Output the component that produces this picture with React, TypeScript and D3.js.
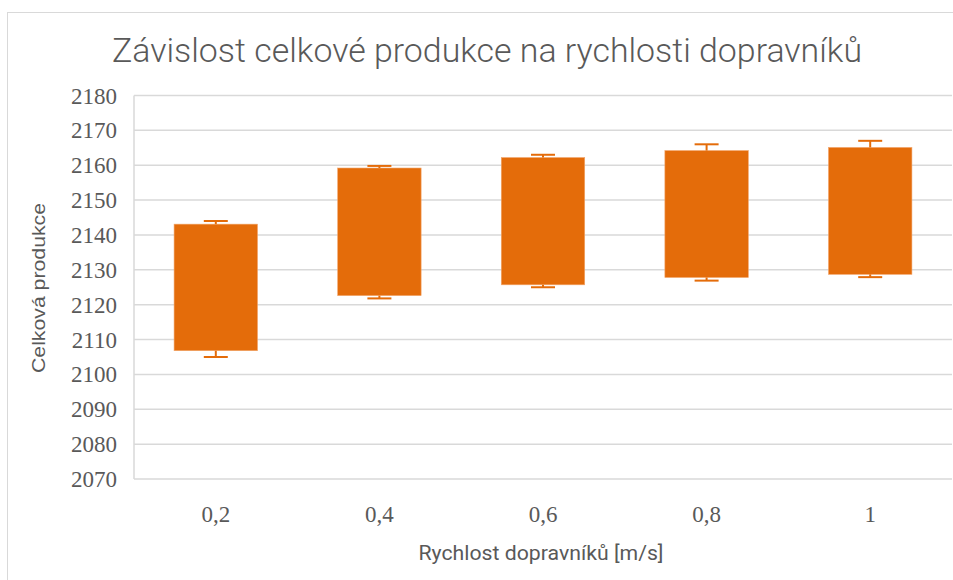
import { useEffect, useRef } from 'react';
import * as d3 from 'd3';

const speeds = ['0,2', '0,4', '0,6', '0,8', '1'];
const barLow = [2106.8, 2122.6, 2125.7, 2127.8, 2128.7];
const barHigh = [2143.1, 2159.2, 2162.2, 2164.2, 2165.1];
const errLow = [2105.0, 2121.8, 2125.0, 2126.9, 2127.9];
const errHigh = [2144.0, 2159.8, 2163.0, 2166.0, 2167.0];
const yTicks = [2070, 2080, 2090, 2100, 2110, 2120, 2130, 2140, 2150, 2160, 2170, 2180];

const W = 953;
const H = 580;
const ORANGE = '#E46C0A';
const GRID = '#d9d9d9';
const TEXT = '#595959';
const SERIF = "'Liberation Serif', 'DejaVu Serif', serif";

export default function App() {
  const svgRef = useRef<SVGSVGElement>(null);

  useEffect(() => {
    if (!svgRef.current) return;
    const svg = d3.select(svgRef.current);
    svg.selectAll('*').remove();

    const margin = { top: 95.5, right: 1, bottom: 101, left: 134 };
    const innerW = W - margin.left - margin.right;
    const innerH = H - margin.top - margin.bottom;

    // chart frame
    svg.append('rect')
      .attr('x', 7.5).attr('y', 12.5)
      .attr('width', W + 20).attr('height', H + 20)
      .attr('fill', '#fff').attr('stroke', GRID).attr('stroke-width', 1);

    const x = d3.scaleBand<string>()
      .domain(speeds)
      .range([0, innerW])
      .paddingInner(0.49)
      .paddingOuter(0.245);

    const y = d3.scaleLinear().domain([2070, 2180]).range([innerH, 0]);

    const g = svg.append('g')
      .attr('transform', 'translate(' + margin.left + ',' + margin.top + ')');

    // gridlines
    g.selectAll('.grid')
      .data(yTicks)
      .join('line')
      .attr('x1', 0).attr('x2', innerW)
      .attr('y1', d => y(d)).attr('y2', d => y(d))
      .attr('stroke', GRID).attr('stroke-width', 1.5);

    // left axis line
    g.append('line')
      .attr('x1', 0).attr('x2', 0)
      .attr('y1', y(2180)).attr('y2', y(2070))
      .attr('stroke', GRID).attr('stroke-width', 1.5);

    // y tick labels
    g.selectAll('.ytick')
      .data(yTicks)
      .join('text')
      .attr('x', -17)
      .attr('y', d => y(d))
      .attr('dy', '0.35em')
      .attr('text-anchor', 'end')
      .attr('fill', TEXT)
      .attr('font-family', SERIF)
      .attr('font-size', 23)
      .text(d => d);

    // x tick labels
    g.selectAll('.xtick')
      .data(speeds)
      .join('text')
      .attr('x', d => (x(d) as number) + x.bandwidth() / 2)
      .attr('y', innerH + 43)
      .attr('text-anchor', 'middle')
      .attr('fill', TEXT)
      .attr('font-family', SERIF)
      .attr('font-size', 23)
      .text(d => d);

    // floating bars
    g.selectAll('.bar')
      .data(speeds)
      .join('rect')
      .attr('x', d => x(d) as number)
      .attr('width', x.bandwidth())
      .attr('y', (_, i) => y(barHigh[i]))
      .attr('height', (_, i) => y(barLow[i]) - y(barHigh[i]))
      .attr('fill', ORANGE)
      .attr('stroke', '#f2a56a')
      .attr('stroke-width', 0.6);

    // error bars
    const capW = 24;
    speeds.forEach((s, i) => {
      const cx = (x(s) as number) + x.bandwidth() / 2;
      const eg = g.append('g').attr('stroke', ORANGE).attr('stroke-width', 2);
      eg.append('line')
        .attr('x1', cx).attr('x2', cx)
        .attr('y1', y(barHigh[i])).attr('y2', y(errHigh[i]));
      eg.append('line')
        .attr('x1', cx - capW / 2).attr('x2', cx + capW / 2)
        .attr('y1', y(errHigh[i])).attr('y2', y(errHigh[i]));
      eg.append('line')
        .attr('x1', cx).attr('x2', cx)
        .attr('y1', y(barLow[i])).attr('y2', y(errLow[i]));
      eg.append('line')
        .attr('x1', cx - capW / 2).attr('x2', cx + capW / 2)
        .attr('y1', y(errLow[i])).attr('y2', y(errLow[i]));
    });

    // title
    svg.append('text')
      .attr('x', 487)
      .attr('y', 62)
      .attr('text-anchor', 'middle')
      .attr('fill', TEXT)
      .attr('font-family', "Roboto, 'Liberation Sans', sans-serif")
      .attr('font-size', 34)
      .attr('font-weight', 300)
      .attr('textLength', 750)
      .attr('lengthAdjust', 'spacingAndGlyphs')
      .text('Závislost celkové produkce na rychlosti dopravníků');

    // x axis title
    svg.append('text')
      .attr('x', 541)
      .attr('y', 560)
      .attr('text-anchor', 'middle')
      .attr('fill', TEXT)
      .attr('font-family', "Roboto, 'Liberation Sans', sans-serif")
      .attr('font-size', 20)
      .attr('textLength', 245)
      .attr('lengthAdjust', 'spacingAndGlyphs')
      .text('Rychlost dopravníků [m/s]');

    // y axis title
    svg.append('text')
      .attr('transform', 'translate(45,288) rotate(-90)')
      .attr('text-anchor', 'middle')
      .attr('fill', TEXT)
      .attr('font-family', "'Liberation Sans', Arial, sans-serif")
      .attr('font-size', 19)
      .attr('textLength', 170)
      .attr('lengthAdjust', 'spacingAndGlyphs')
      .text('Celková produkce');
  }, []);

  return (
    <svg
      ref={svgRef}
      width={W}
      height={H}
      style={{ position: 'absolute', left: 0, top: 0, background: '#fff' }}
    />
  );
}
